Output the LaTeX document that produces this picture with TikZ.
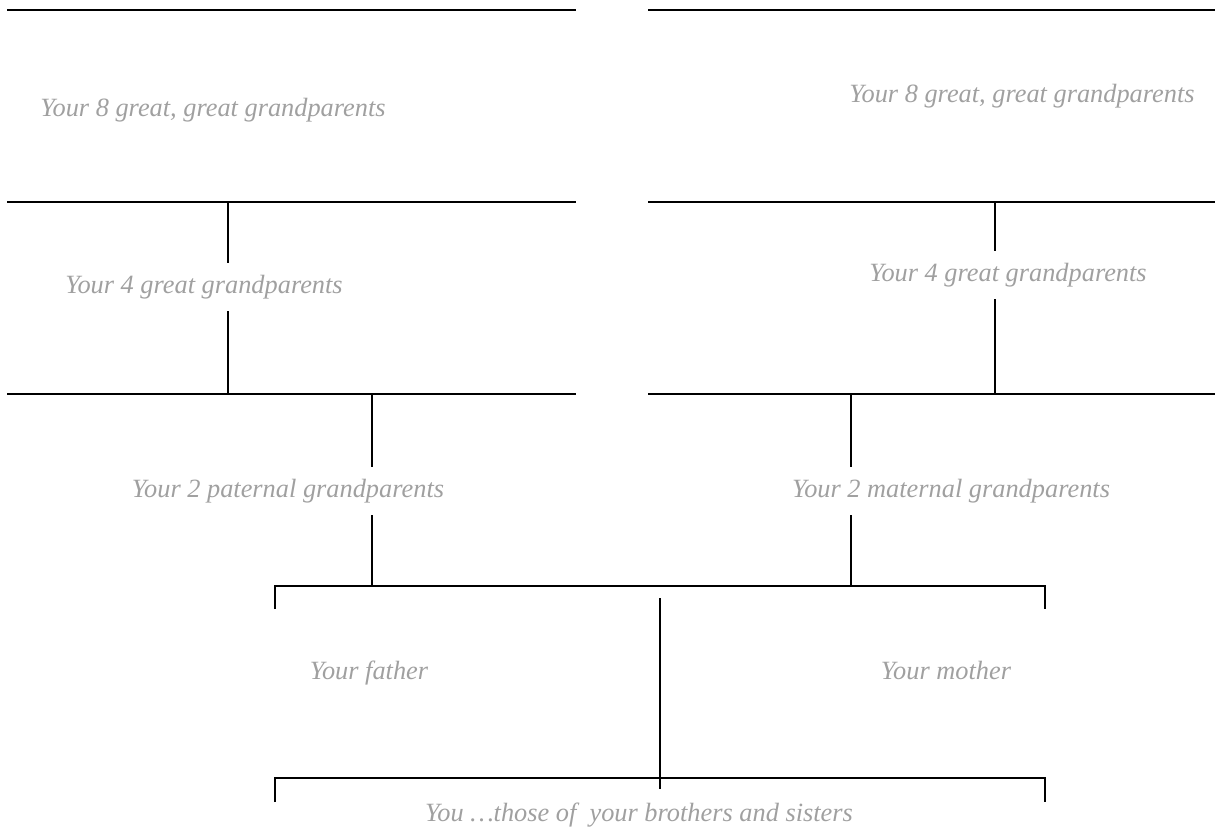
\documentclass[tikz,border=0pt]{standalone}
\usepackage{fontspec}
\setmainfont{Liberation Serif}
\usetikzlibrary{positioning}
\definecolor{hintgray}{RGB}{160,160,160}

\begin{document}
\begin{tikzpicture}[
    x=0.02cm, y=-0.02cm,
    nameline/.style={line width=1.4pt, black},
    link/.style={line width=1.3pt, black},
    person/.style={text=hintgray, font=\fontsize{15}{18}\selectfont\itshape, inner xsep=2pt, inner ysep=6pt, text height=11pt, text depth=4pt}
]
    \useasboundingbox (0,0) rectangle (1215,829);

    % Texts
    \node[person] (gg8L) at (213,110) {Your 8 great, great grandparents};
    \node[person] (gg8R) at (1022,96) {Your 8 great, great grandparents};
    \node[person] (g4L) at (204,287) {Your 4 great grandparents};
    \node[person] (g4R) at (1008,275) {Your 4 great grandparents};
    \node[person] (gp2L) at (288,491) {Your 2 paternal grandparents};
    \node[person] (gp2R) at (951,491) {Your 2 maternal grandparents};
    \node[person] (father) at (369,673) {Your father};
    \node[person] (mother) at (946,673) {Your mother};
    \node[person] (you) at (639,815) {You …those of\ \ your brothers and sisters};

    % Lines to write the names on
    \coordinate (L1w) at (7,10);    \coordinate (L1e) at (576,10);
    \coordinate (L2w) at (7,202);   \coordinate (L2e) at (576,202);
    \coordinate (L3w) at (7,394);   \coordinate (L3e) at (576,394);
    \coordinate (R1w) at (648,10);  \coordinate (R1e) at (1215,10);
    \coordinate (R2w) at (648,202); \coordinate (R2e) at (1215,202);
    \coordinate (R3w) at (648,394); \coordinate (R3e) at (1215,394);
    \coordinate (Pw) at (275,586);  \coordinate (Pe) at (1045,586);
    \coordinate (Yw) at (275,778);  \coordinate (Ye) at (1045,778);

    \draw[nameline] (L1w) -- (L1e);
    \draw[nameline] (L2w) -- (L2e);
    \draw[nameline] (L3w) -- (L3e);
    \draw[nameline] (R1w) -- (R1e);
    \draw[nameline] (R2w) -- (R2e);
    \draw[nameline] (R3w) -- (R3e);
    \draw[nameline] (Pw) ++(0,23) -- (Pw) -- (Pe) -- ++(0,23);
    \draw[nameline] (Yw) ++(0,24) -- (Yw) -- (Ye) -- ++(0,24);

    % Links between generations
    \coordinate (g4Ltop) at (228,202); \coordinate (g4Lbot) at (228,394);
    \coordinate (g4Rtop) at (995,202); \coordinate (g4Rbot) at (995,394);
    \coordinate (gp2Ltop) at (372,394); \coordinate (gp2Lbot) at (372,586);
    \coordinate (gp2Rtop) at (851,394); \coordinate (gp2Rbot) at (851,586);
    \coordinate (sibtop) at (660,598); \coordinate (sibbot) at (660,789);

    \draw[link] (g4Ltop) -- (g4Ltop |- g4L.north);
    \draw[link] (g4L.south -| g4Lbot) -- (g4Lbot);
    \draw[link] (g4Rtop) -- (g4Rtop |- g4R.north);
    \draw[link] (g4R.south -| g4Rbot) -- (g4Rbot);
    \draw[link] (gp2Ltop) -- (gp2Ltop |- gp2L.north);
    \draw[link] (gp2L.south -| gp2Lbot) -- (gp2Lbot);
    \draw[link] (gp2Rtop) -- (gp2Rtop |- gp2R.north);
    \draw[link] (gp2R.south -| gp2Rbot) -- (gp2Rbot);
    \draw[link] (sibtop) -- (sibbot);
\end{tikzpicture}
\end{document}
